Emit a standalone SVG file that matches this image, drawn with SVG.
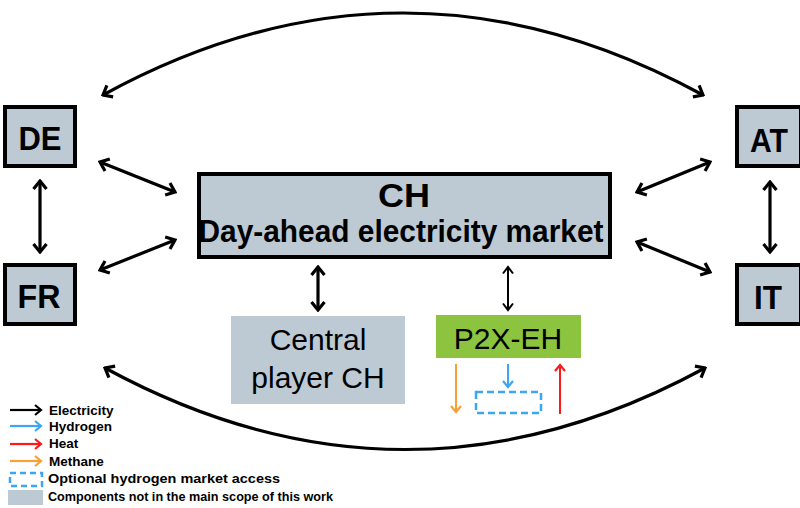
<svg xmlns="http://www.w3.org/2000/svg" width="800" height="508" viewBox="0 0 800 508">
<style>
.box{fill:#BDCAD3;stroke:#000;stroke-width:4}
.grey{fill:#BDCAD3}
.lbl{font-family:"Liberation Sans",Arial,sans-serif;font-weight:bold;fill:#000;text-anchor:middle}
.reg{font-family:"Liberation Sans",Arial,sans-serif;fill:#000;text-anchor:middle}
.leg{font-family:"Liberation Sans",Arial,sans-serif;font-weight:bold;fill:#000;font-size:13.5px}
.c3{fill:none;stroke:#000;stroke-width:3.2}
.c2{fill:none;stroke:#000;stroke-width:2}
</style>
<defs>
<marker id="ak" viewBox="-12 -9 14 18" markerWidth="14" markerHeight="18" refX="0" refY="0" orient="auto-start-reverse" markerUnits="userSpaceOnUse">
<path d="M-8,-6.5 L0,0 L-8,6.5" fill="none" stroke="#000" stroke-width="3.2"/>
</marker>
<marker id="ak2" viewBox="-10 -8 12 16" markerWidth="12" markerHeight="16" refX="0" refY="0" orient="auto-start-reverse" markerUnits="userSpaceOnUse">
<path d="M-6.5,-5 L0,0 L-6.5,5" fill="none" stroke="#000" stroke-width="2"/>
</marker>
<marker id="ablk" viewBox="-10 -8 12 16" markerWidth="12" markerHeight="16" refX="0" refY="0" orient="auto" markerUnits="userSpaceOnUse">
<path d="M-6,-5 L0,0 L-6,5" fill="none" stroke="#000" stroke-width="2.2"/>
</marker>
<marker id="ablu" viewBox="-10 -8 12 16" markerWidth="12" markerHeight="16" refX="0" refY="0" orient="auto" markerUnits="userSpaceOnUse">
<path d="M-6,-5 L0,0 L-6,5" fill="none" stroke="#3BA7F0" stroke-width="2.2"/>
</marker>
<marker id="ared" viewBox="-10 -8 12 16" markerWidth="12" markerHeight="16" refX="0" refY="0" orient="auto" markerUnits="userSpaceOnUse">
<path d="M-6,-5 L0,0 L-6,5" fill="none" stroke="#FF1A1A" stroke-width="2.2"/>
</marker>
<marker id="aor" viewBox="-10 -8 12 16" markerWidth="12" markerHeight="16" refX="0" refY="0" orient="auto" markerUnits="userSpaceOnUse">
<path d="M-6,-5 L0,0 L-6,5" fill="none" stroke="#F9A032" stroke-width="2.2"/>
</marker>
</defs>
<rect width="800" height="508" fill="#fff"/>

<g id="connectors">
<path class="c3" d="M103,95 Q403,-69 703,95" marker-start="url(#ak)" marker-end="url(#ak)"/>
<path class="c3" d="M105,368 Q405,531 705,368" marker-start="url(#ak)" marker-end="url(#ak)"/>
<line class="c3" x1="100" y1="162" x2="175" y2="192" marker-start="url(#ak)" marker-end="url(#ak)"/>
<line class="c3" x1="100" y1="270" x2="175" y2="240" marker-start="url(#ak)" marker-end="url(#ak)"/>
<line class="c3" x1="40" y1="181" x2="40" y2="252" marker-start="url(#ak)" marker-end="url(#ak)"/>
<line class="c3" x1="637" y1="192" x2="710" y2="162" marker-start="url(#ak)" marker-end="url(#ak)"/>
<line class="c3" x1="637" y1="242" x2="710" y2="272" marker-start="url(#ak)" marker-end="url(#ak)"/>
<line class="c3" x1="770" y1="182" x2="770" y2="252" marker-start="url(#ak)" marker-end="url(#ak)"/>
<line class="c3" x1="318" y1="267" x2="318" y2="310" marker-start="url(#ak)" marker-end="url(#ak)"/>
<line class="c2" x1="508" y1="267" x2="508" y2="310" marker-start="url(#ak2)" marker-end="url(#ak2)"/>
<line x1="456" y1="364" x2="456" y2="412" stroke="#F9A032" stroke-width="2" marker-end="url(#aor)"/>
<line x1="508" y1="364" x2="508" y2="387" stroke="#3BA7F0" stroke-width="2" marker-end="url(#ablu)"/>
<line x1="560" y1="414" x2="560" y2="365" stroke="#FF1A1A" stroke-width="2" marker-end="url(#ared)"/>
</g>

<g id="node-DE">
<rect class="box" x="5" y="107" width="70" height="59"/>
<text class="lbl" x="40" y="150" font-size="34" textLength="43" lengthAdjust="spacingAndGlyphs">DE</text>
</g>
<g id="node-FR">
<rect class="box" x="5" y="265" width="70" height="59"/>
<text class="lbl" x="39" y="308" font-size="34" textLength="43" lengthAdjust="spacingAndGlyphs">FR</text>
</g>
<g id="node-AT">
<rect class="box" x="737" y="107" width="64" height="59"/>
<text class="lbl" x="769" y="152" font-size="34" textLength="38" lengthAdjust="spacingAndGlyphs">AT</text>
</g>
<g id="node-IT">
<rect class="box" x="737" y="265" width="64" height="59"/>
<text class="lbl" x="768" y="309" font-size="34" textLength="28" lengthAdjust="spacingAndGlyphs">IT</text>
</g>
<g id="node-CH">
<rect class="box" x="199" y="174" width="411" height="83"/>
<text class="lbl" x="404" y="207" font-size="33" textLength="52" lengthAdjust="spacingAndGlyphs">CH</text>
<text class="lbl" x="401" y="242" font-size="31" textLength="405" lengthAdjust="spacingAndGlyphs">Day-ahead electricity market</text>
</g>
<g id="node-central">
<rect class="grey" x="231" y="316" width="174" height="88"/>
<text class="reg" x="318" y="350" font-size="30">Central</text>
<text class="reg" x="318" y="388" font-size="30">player CH</text>
</g>
<g id="node-P2X">
<rect x="436" y="315" width="145" height="43" fill="#8CC43F"/>
<text class="reg" x="508" y="349" font-size="30">P2X-EH</text>
</g>
<g id="node-h2market">
<rect x="476" y="392" width="65" height="21" fill="none" stroke="#3BA7F0" stroke-width="2.5" stroke-dasharray="7,4"/>
</g>

<g id="legend">
<line x1="10" y1="410" x2="41" y2="410" stroke="#000" stroke-width="2.2" marker-end="url(#ablk)"/>
<line x1="10" y1="426" x2="41" y2="426" stroke="#3BA7F0" stroke-width="2.2" marker-end="url(#ablu)"/>
<line x1="10" y1="444" x2="41" y2="444" stroke="#FF1A1A" stroke-width="2.2" marker-end="url(#ared)"/>
<line x1="10" y1="461" x2="41" y2="461" stroke="#F9A032" stroke-width="2.2" marker-end="url(#aor)"/>
<rect x="10" y="473" width="32" height="13" fill="none" stroke="#3BA7F0" stroke-width="2.5" stroke-dasharray="6,4"/>
<rect class="grey" x="8" y="490" width="35" height="15"/>
<text class="leg" x="49" y="415">Electricity</text>
<text class="leg" x="49" y="431">Hydrogen</text>
<text class="leg" x="49" y="448">Heat</text>
<text class="leg" x="49" y="466">Methane</text>
<text class="leg" x="48" y="483" font-size="14" textLength="232" lengthAdjust="spacingAndGlyphs">Optional hydrogen market access</text>
<text class="leg" x="48" y="501" font-size="12.5" textLength="285" lengthAdjust="spacingAndGlyphs">Components not in the main scope of this work</text>
</g>
</svg>
